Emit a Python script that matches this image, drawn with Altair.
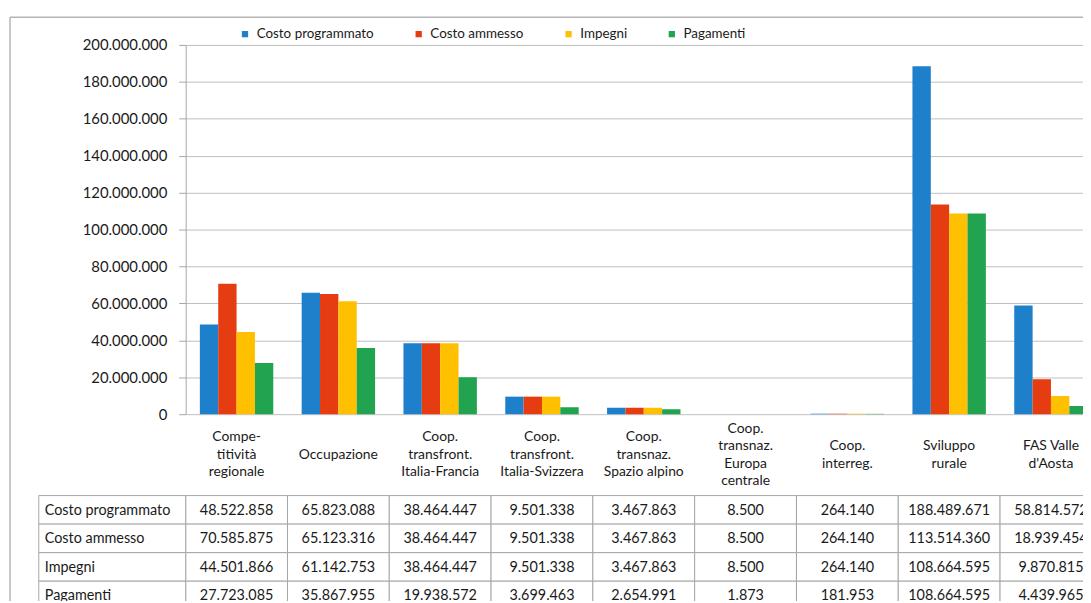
import altair as alt
import pandas as pd

categories = [
    "Compe-|titività|regionale",
    "Occupazione",
    "Coop.|transfront.|Italia-Francia",
    "Coop.|transfront.|Italia-Svizzera",
    "Coop.|transnaz.|Spazio alpino",
    "Coop.|transnaz.|Europa|centrale",
    "Coop.|interreg.",
    "Sviluppo|rurale",
    "FAS Valle|d'Aosta",
]
series = ["Costo programmato", "Costo ammesso", "Impegni", "Pagamenti"]
costo_programmato = [48522858, 65823088, 38464447, 9501338, 3467863, 8500, 264140, 188489671, 58814572]
costo_ammesso = [70585875, 65123316, 38464447, 9501338, 3467863, 8500, 264140, 113514360, 18939454]
impegni = [44501866, 61142753, 38464447, 9501338, 3467863, 8500, 264140, 108664595, 9870815]
pagamenti = [27723085, 35867955, 19938572, 3699463, 2654991, 1873, 181953, 108664595, 4439965]
colors = ["#1e7fcb", "#e53c12", "#ffc000", "#22a34f"]
y_ticks = [0, 20000000, 40000000, 60000000, 80000000, 100000000,
           120000000, 140000000, 160000000, 180000000, 200000000]

records = []
for s, vals in zip(series, [costo_programmato, costo_ammesso, impegni, pagamenti]):
    for c, v in zip(categories, vals):
        records.append({"cat": c, "series": s, "value": v})
df = pd.DataFrame(records)
cat_df = pd.DataFrame({"cat": categories})
row_df = pd.DataFrame({"series": series})
one = pd.DataFrame({"k": [0]})

# layout (pixels)
W = 904            # visible plot width (chart is cropped on the right)
H = 372            # bar plot height
X_RANGE = [0, 923]  # full extent of the 9 category columns
TABLE_RANGE = [454, 569]  # data rows of the table, below the plot
HEADER_MID = H + 41
LINE_H = 17.5

FONT = "Lato"
TXT = "#1a1a1a"
LINE = "#a6a6a6"
GRID = "#c0c0c0"
FRAME = "#b4b4b4"
FMT = "replace(format(datum.value, ','), regexp(',', 'g'), '.')"

x_scale = alt.Scale(domain=categories, range=X_RANGE, paddingInner=0, paddingOuter=0)

bars = alt.Chart(df).mark_bar().encode(
    x=alt.X(
        "cat:N", sort=categories, title=None, scale=x_scale,
        axis=alt.Axis(tickBand="extent", tickSize=82, tickColor=LINE,
                      domainColor=LINE, labels=False),
    ),
    xOffset=alt.XOffset("series:N", sort=series,
                        scale=alt.Scale(paddingInner=0, paddingOuter=0.773)),
    y=alt.Y(
        "value:Q", title=None,
        scale=alt.Scale(domain=[0, 200000000], nice=False, zero=True),
        axis=alt.Axis(
            values=y_ticks, labelExpr=FMT, tickSize=7, labelPadding=12,
            gridColor=GRID, tickColor=LINE, domainColor=LINE,
            labelFontSize=15, labelFont=FONT, labelColor=TXT,
        ),
    ),
    color=alt.Color(
        "series:N", sort=series,
        scale=alt.Scale(domain=series, range=colors),
        legend=alt.Legend(
            title=None, orient="none", direction="horizontal",
            legendX=53, legendY=-18, symbolType="square", symbolSize=40,
            symbolStrokeWidth=0, labelFontSize=13.5, labelFont=FONT,
            labelColor=TXT, columnPadding=38, padding=0, labelOffset=5,
        ),
    ),
)

# header labels (category names), vertically centred in the header band
header = alt.Chart(cat_df).transform_calculate(
    hy="(1 - length(split(datum.cat, '|'))) / 2"
).mark_text(
    font=FONT, fontSize=14, color=TXT, lineBreak="|", lineHeight=LINE_H,
    align="center", baseline="middle",
).encode(
    x=alt.X("cat:N", sort=categories, scale=x_scale, axis=None),
    y=alt.Y("hy:Q", scale=alt.Scale(domain=[0, 1], range=[HEADER_MID, HEADER_MID + LINE_H]),
            axis=None),
    text="cat:N",
)

y_tab = alt.Y("series:N", sort=series, title=None, axis=None,
              scale=alt.Scale(domain=series, range=TABLE_RANGE,
                              paddingInner=0, paddingOuter=0))
x_tab = alt.X("cat:N", sort=categories, scale=x_scale, axis=None)

cells = alt.Chart(df).mark_rect(fill="white", stroke=LINE, strokeWidth=1).encode(
    x=x_tab, y=y_tab
)
texts = alt.Chart(df).transform_calculate(
    label=FMT
).mark_text(font=FONT, fontSize=14.5, color=TXT, dy=1).encode(
    x=x_tab, y=y_tab, text="label:N"
)
row_cells = alt.Chart(row_df).mark_rect(fill="white", stroke=LINE, strokeWidth=1).encode(
    x=alt.value(-148), x2=alt.value(0), y=y_tab
)
row_labels = alt.Chart(row_df).mark_text(
    font=FONT, fontSize=14.5, color=TXT, align="left", baseline="middle", dy=1
).encode(x=alt.value(-142), y=y_tab, text="series:N")

frame_top = alt.Chart(one).mark_rule(color=FRAME, strokeWidth=1.5).encode(
    x=alt.value(-177), x2=alt.value(W + 10), y=alt.value(-28)
)
frame_left = alt.Chart(one).mark_rule(color=FRAME, strokeWidth=1.5).encode(
    x=alt.value(-177), y=alt.value(-28), y2=alt.value(H + 200)
)

chart = alt.layer(
    bars, header, cells, texts, row_cells, row_labels, frame_top, frame_left
).resolve_scale(y="independent").properties(
    width=W, height=H,
    padding={"left": 179, "top": 35, "right": 0, "bottom": 186},
    autosize=alt.AutoSizeParams(type="none"),
).configure_view(stroke=None)

chart.save("out.html", embed_options={"renderer": "svg", "actions": False})
